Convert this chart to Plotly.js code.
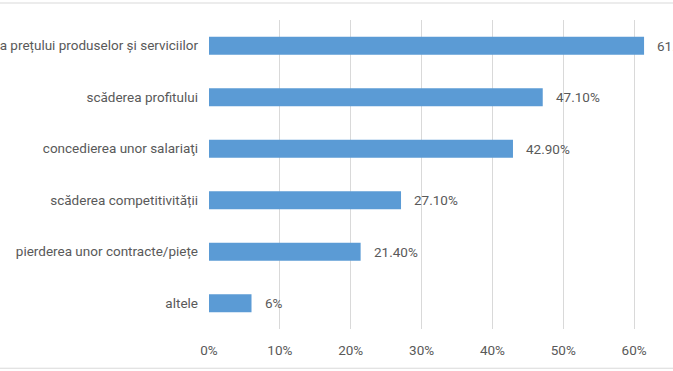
<!DOCTYPE html>
<html>
<head>
<meta charset="utf-8">
<script src="https://cdn.plot.ly/plotly-3.0.1.min.js"></script>
<style>
html,body{margin:0;padding:0;width:673px;height:371px;overflow:hidden;background:#fff;}
#chart{position:absolute;left:-150px;top:0;width:1000px;height:371px;}
</style>
</head>
<body>
<div id="chart"></div>
<script>
var categories = [
  "creșterea prețului produselor și serviciilor",
  "scăderea profitului",
  "concedierea unor salariaţi",
  "scăderea competitivității",
  "pierderea unor contracte/piețe",
  "altele"
];
var values = [0.614, 0.471, 0.429, 0.271, 0.214, 0.06];
var valueLabels = ["61.40%", "47.10%", "42.90%", "27.10%", "21.40%", "6%"];
var tickValues = [0, 0.1, 0.2, 0.3, 0.4, 0.5, 0.6];
var tickLabels = ["0%", "10%", "20%", "30%", "40%", "50%", "60%"];

var FONT = "Liberation Sans Narrow, Roboto, sans-serif";
var TXT = "#595959";

var trace = {
  type: "bar",
  orientation: "h",
  x: values,
  y: categories,
  marker: {color: "#5B9BD5"},
  hoverinfo: "none"
};

var annotations = values.map(function(v, i){
  return {
    x: v, y: categories[i], xref: "x", yref: "y",
    text: valueLabels[i], showarrow: false,
    xanchor: "left", yanchor: "middle", xshift: 11,
    font: {family: FONT, size: 13.5, color: TXT}
  };
});

var layout = {
  width: 1000, height: 371,
  margin: {l: 359, r: 145, t: 20, b: 42, pad: 0},
  paper_bgcolor: "#fff", plot_bgcolor: "#fff",
  showlegend: false,
  bargap: 0.65,
  font: {family: FONT, size: 13.5, color: TXT},
  xaxis: {
    range: [0, 0.7],
    tickvals: tickValues, ticktext: tickLabels,
    showgrid: true, gridcolor: "#d9d9d9", gridwidth: 1,
    zeroline: false, showline: false, ticks: "",
    ticklabelstandoff: 11,
    tickfont: {family: FONT, size: 13.5, color: TXT},
    automargin: false, fixedrange: true
  },
  yaxis: {
    autorange: "reversed",
    showgrid: false, zeroline: false, showline: false, ticks: "",
    ticklabelstandoff: 10,
    tickfont: {family: FONT, size: 13.5, color: TXT},
    automargin: false, fixedrange: true
  },
  annotations: annotations,
  shapes: [
    {type: "line", xref: "paper", yref: "paper", x0: -1, x1: 2, y0: 1.055, y1: 1.055,
     line: {color: "#d9d9d9", width: 1}},
    {type: "line", xref: "paper", yref: "paper", x0: -1, x1: 2, y0: -0.127, y1: -0.127,
     line: {color: "#d9d9d9", width: 1}}
  ]
};

Plotly.newPlot("chart", [trace], layout, {displayModeBar: false, staticPlot: true});
</script>
</body>
</html>
